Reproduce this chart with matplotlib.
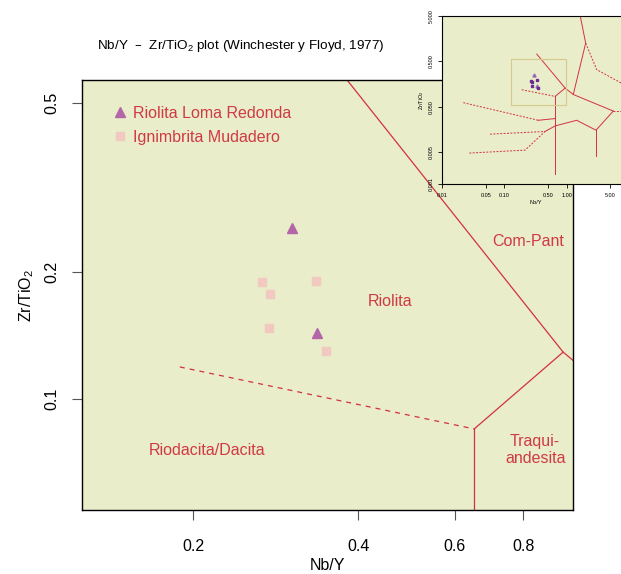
import matplotlib as mpl
mpl.use("Agg")
import matplotlib.pyplot as plt

plt.rcParams['font.family'] = ['Liberation Sans', 'DejaVu Sans']
plt.rcParams['mathtext.default'] = 'regular'

# sample data (Nb/Y, Zr/TiO2)
riolita_nby = [0.303, 0.336]
riolita_zrti = [0.253, 0.143]
ign_nby = [0.267, 0.276, 0.335, 0.275, 0.349]
ign_zrti = [0.189, 0.177, 0.190, 0.147, 0.130]

# Winchester & Floyd (1977) field boundaries
solid_lines = [
    ([0.33, 0.946, 1.276, 2.02, 1.64], [0.72, 0.129, 0.0935, 1.25, 5.2]),
    ([0.946, 0.651], [0.129, 0.0849]),
    ([0.651, 0.651], [0.0849, 0.0017]),
    ([1.276, 5.61], [0.0935, 0.0405]),
    ([5.61, 2.96, 1.448, 0.651, 0.448], [0.0405, 0.01538, 0.0254, 0.0191, 0.0144]),
    ([2.96, 2.96], [0.01538, 0.00411]),
    ([0.349, 0.651], [0.0254, 0.0277]),
]
dashed_lines = [
    ([0.189, 0.651], [0.119, 0.0849]),
    ([0.0218, 0.349], [0.0618, 0.0254]),
    ([0.0585, 0.448], [0.0126, 0.0144]),
    ([0.0272, 0.214, 0.448], [0.00485, 0.00562, 0.0144]),
    ([2.02, 3.04, 7.46, 10.0], [1.25, 0.328, 0.168, 0.135]),
    ([5.61, 10.0], [0.0405, 0.0405]),
]

field_names = ["Riolita", "Com-Pant", "Riodacita/Dacita", "Traqui-\nandesita"]
field_x = [0.457, 0.816, 0.212, 0.841]
field_y = [0.170, 0.236, 0.0757, 0.0757]

line_col = "#d2323f"
text_col = "#d03a44"
bg = "#e9edc9"

fig = plt.figure(figsize=(6.21, 5.74), dpi=100)
ax = fig.add_axes([0.132, 0.1115, 0.7907, 0.749])
ax.set_facecolor(bg)
ax.set_xscale("log")
ax.set_yscale("log")

for xs, ys in solid_lines:
    ax.plot(xs, ys, color=line_col, lw=0.9)
for xs, ys in dashed_lines:
    ax.plot(xs, ys, color=line_col, lw=0.9, ls=(0, (4, 4)))

ax.plot(riolita_nby, riolita_zrti, "^", color="#b466a8", ms=6.8, ls="none",
        label="Riolita Loma Redonda")
ax.plot(ign_nby, ign_zrti, "s", color="#f2c9c0", ms=5.8, ls="none",
        label="Ignimbrita Mudadero")

for name, x, y in zip(field_names, field_x, field_y):
    ax.text(x, y, name, color=text_col, fontsize=11.5, ha="center", va="center",
            linespacing=1.1)

ax.set_xlim(0.1253, 0.986)
ax.set_ylim(0.0546, 0.5676)
ax.set_xticks([0.2, 0.4, 0.6, 0.8])
ax.set_xticklabels(["0.2", "0.4", "0.6", "0.8"])
ax.set_yticks([0.1, 0.2, 0.5])
ax.set_yticklabels(["0.1", "0.2", "0.5"], rotation=90, va="center")
ax.minorticks_off()
ax.tick_params(axis="x", length=7, width=0.8, color="#555555", pad=14, labelsize=11.5)
ax.tick_params(axis="y", length=7, width=0.8, color="#555555", pad=9, labelsize=11.5)
ax.set_xlabel("Nb/Y", fontsize=11.5, labelpad=3)
ax.set_ylabel("Zr/TiO$_2$", fontsize=11.5, labelpad=6)
for s in ax.spines.values():
    s.set_linewidth(1.0)

leg = ax.legend(loc="upper left", bbox_to_anchor=(0.045, 0.955), frameon=False,
                fontsize=11.5, labelcolor=text_col, handletextpad=0.2,
                handlelength=1.2, labelspacing=0.55, borderaxespad=0)

fig.text(0.156, 1 - 46 / 574, r"Nb/Y  –  Zr/TiO$_2$ plot (Winchester y Floyd, 1977)",
         fontsize=9.7, va="center", ha="left")

# inset with the whole diagram
ins = fig.add_axes([0.7122, 0.6789, 0.3005, 0.2937])
ins.set_facecolor(bg)
ins.set_xscale("log")
ins.set_yscale("log")
for xs, ys in solid_lines:
    ins.plot(xs, ys, color=line_col, lw=0.7)
for xs, ys in dashed_lines:
    ins.plot(xs, ys, color=line_col, lw=0.7, ls=(0, (2, 1.5)))
ins.plot([0.1253, 0.986, 0.986, 0.1253, 0.1253],
         [0.0546, 0.0546, 0.5676, 0.5676, 0.0546], color="#d6c98c", lw=0.8)
ins.plot(riolita_nby, riolita_zrti, "^", color="#9a6ab8", ms=2.2, ls="none")
ins.plot(ign_nby, ign_zrti, "s", color="#6a2c91", ms=1.9, ls="none")
ins.set_xlim(0.01, 10)
ins.set_ylim(0.001, 5)
ins.set_xticks([0.01, 0.05, 0.1, 0.5, 1, 5])
ins.set_xticklabels(["0.01", "0.05", "0.10", "0.50", "1.00", "5.00"])
ins.set_yticks([0.001, 0.005, 0.05, 0.5, 5])
ins.set_yticklabels(["0.001", "0.005", "0.050", "0.500", "5.000"], rotation=90, va="center")
ins.minorticks_off()
ins.tick_params(length=3, width=0.6, labelsize=4, pad=3)
ins.set_xlabel("Nb/Y", fontsize=4, labelpad=2)
ins.set_ylabel("Zr/TiO$_2$", fontsize=4, labelpad=2)

fig.savefig("out.png", dpi=100)
